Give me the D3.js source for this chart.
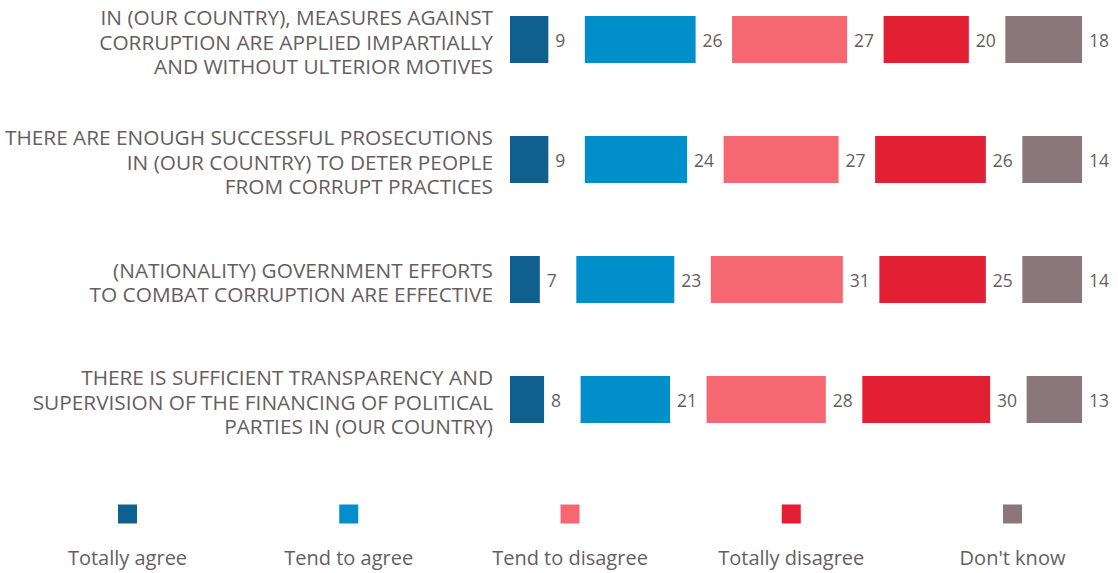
<!DOCTYPE html>
<html>
<head>
<meta charset="utf-8">
<script src="https://cdn.jsdelivr.net/npm/d3@7"></script>
<style>
  html, body { margin: 0; padding: 0; background: #fff; }
  svg { display: block; font-family: "Open Sans", "Noto Sans", sans-serif; }
</style>
</head>
<body>
<svg id="chart" width="1118" height="573"></svg>
<script>
// Statements (one line of text per array entry)
const statements = [
  ["IN (OUR COUNTRY), MEASURES AGAINST", "CORRUPTION ARE APPLIED IMPARTIALLY", "AND WITHOUT ULTERIOR MOTIVES"],
  ["THERE ARE ENOUGH SUCCESSFUL PROSECUTIONS", "IN (OUR COUNTRY) TO DETER PEOPLE", "FROM CORRUPT PRACTICES"],
  ["(NATIONALITY) GOVERNMENT EFFORTS", "TO COMBAT CORRUPTION ARE EFFECTIVE"],
  ["THERE IS SUFFICIENT TRANSPARENCY AND", "SUPERVISION OF THE FINANCING OF POLITICAL", "PARTIES IN (OUR COUNTRY)"]
];

// Answer categories
const answers = ["Totally agree", "Tend to agree", "Tend to disagree", "Totally disagree", "Don't know"];

// Percentages per statement, in answer order
const totallyAgree    = [9, 9, 7, 8];
const tendToAgree     = [26, 24, 23, 21];
const tendToDisagree  = [27, 27, 31, 28];
const totallyDisagree = [20, 26, 25, 30];
const dontKnow        = [18, 14, 14, 13];

const colors = ["#0f5f8f", "#008fcb", "#f66871", "#e31f34", "#8a7779"];

const series = [totallyAgree, tendToAgree, tendToDisagree, totallyDisagree, dontKnow];
const rows = statements.map((lines, r) => ({
  lines,
  values: series.map(s => s[r])
}));

const svg = d3.select("#chart");
const textColor = "#675d5f";

const barLeft = 510;
const gap = 36.5;
const barH = 47;
const x = d3.scaleLinear().domain([0, 100]).range([0, 426]);
const y = d3.scalePoint().domain(d3.range(rows.length)).range([16, 376]);

const rowG = svg.selectAll("g.row")
  .data(rows)
  .join("g")
  .attr("class", "row")
  .attr("transform", (d, i) => `translate(0, ${y(i)})`);

// statement labels, right aligned
rowG.append("text")
  .attr("text-anchor", "end")
  .attr("fill", textColor)
  .attr("font-size", 20.8)
  .each(function(d) {
    const n = d.lines.length;
    const lh = 24.5;
    const start = barH / 2 + 3 - (n - 1) * lh / 2;
    d3.select(this).selectAll("tspan")
      .data(d.lines)
      .join("tspan")
      .attr("x", 493)
      .attr("y", (l, j) => start + j * lh)
      .attr("dy", "0.35em")
      .text(l => l);
  });

// segments with value labels
rowG.each(function(d) {
  const g = d3.select(this);
  let cum = 0;
  const segs = d.values.map((v, i) => {
    const s = { v, i, x0: barLeft + x(cum) + i * gap, w: x(v) };
    cum += v;
    return s;
  });
  g.selectAll("rect.seg")
    .data(segs)
    .join("rect")
    .attr("class", "seg")
    .attr("x", s => s.x0)
    .attr("y", 0)
    .attr("width", s => s.w)
    .attr("height", barH)
    .attr("fill", s => colors[s.i]);
  g.selectAll("text.val")
    .data(segs)
    .join("text")
    .attr("class", "val")
    .attr("x", s => s.x0 + s.w + 7)
    .attr("y", barH / 2 + 1)
    .attr("dy", "0.35em")
    .attr("fill", textColor)
    .attr("font-size", 17.5)
    .text(s => s.v);
});

// legend
const legendX = d3.scalePoint().domain(answers).range([127.5, 1012.5]);
const leg = svg.selectAll("g.leg")
  .data(answers)
  .join("g")
  .attr("class", "leg")
  .attr("transform", d => `translate(${legendX(d)}, 0)`);
leg.append("rect")
  .attr("x", -9.5)
  .attr("y", 504.5)
  .attr("width", 19)
  .attr("height", 19)
  .attr("fill", (d, i) => colors[i]);
leg.append("text")
  .attr("text-anchor", "middle")
  .attr("y", 565)
  .attr("fill", textColor)
  .attr("font-size", 20)
  .text(d => d);
</script>
</body>
</html>
